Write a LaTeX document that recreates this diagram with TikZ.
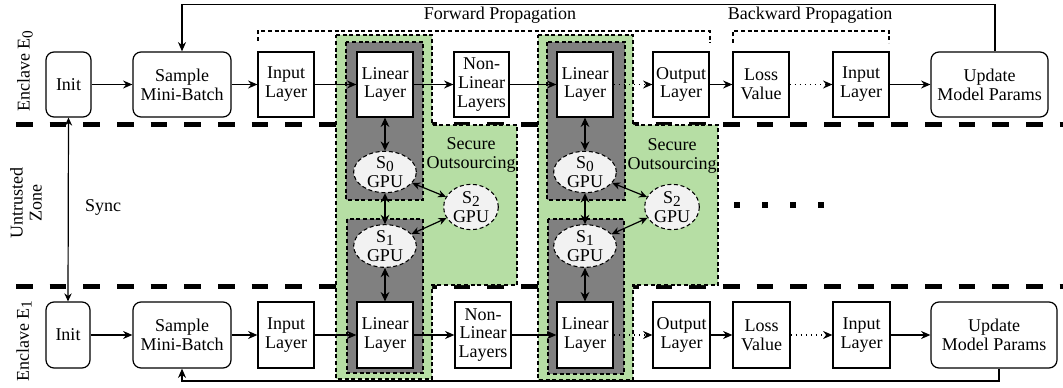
\documentclass[tikz,border=0pt]{standalone}
\usepackage{fontspec}
\setmainfont{Liberation Serif}
\usetikzlibrary{shapes.geometric,arrows.meta}
\definecolor{secgreen}{RGB}{182,222,164}
\definecolor{encgray}{RGB}{128,128,128}
\definecolor{gpufill}{RGB}{242,242,242}
\newcommand{\mybox}[7]{\node[#1, minimum width={(#4-#3)*0.75pt}, minimum height={(#6-#5)*0.75pt}] (#2) at ({(#3+#4)/2},{(#5+#6)/2}) {#7};}
\newcommand{\mysub}[1]{\raisebox{-0.35ex}{\fontsize{11.5}{11.5}\selectfont #1}}
\begin{document}
\begin{tikzpicture}[x=0.75pt, y=-0.75pt,
  font=\fontsize{13.5}{14.2}\selectfont,
  box/.style={draw, line width=0.9pt, inner sep=1pt, align=center, fill=white},
  rbox/.style={box, rounded corners=6pt},
  arr/.style={-{Stealth[length=7pt,width=6pt]}, line width=0.9pt},
  dotarr/.style={arr, dash pattern=on 0.8pt off 3pt},
  darr/.style={{Stealth[length=7pt,width=6.5pt]}-{Stealth[length=7pt,width=6.5pt]}, line width=1.6pt},
  sarr/.style={{Stealth[length=6pt,width=5.5pt]}-{Stealth[length=6pt,width=5.5pt]}, line width=0.9pt},
  zone/.style={draw, line width=0.8pt, dash pattern=on 3pt off 2pt},
  gpu/.style={ellipse, zone, fill=gpufill, inner sep=0pt},
  sep/.style={line width=3.8pt, dash pattern=on 12.5pt off 12.75pt},
  lbl/.style={inner sep=1pt, align=center}]
\useasboundingbox (0,0) rectangle (1063,388);

% zone separators
\draw[sep] (16,124.5) -- (1063,124.5);
\draw[sep] (16,286.5) -- (1063,286.5);

% secure outsourcing regions
\draw[zone, fill=secgreen] (336,35) -- (432,35) -- (432,125) -- (517,125) -- (517,285) -- (432,285) -- (432,379) -- (336,379) -- cycle;
\draw[zone, fill=secgreen] (538,35) -- (633,35) -- (633,125) -- (718,125) -- (718,285) -- (633,285) -- (633,380) -- (538,380) -- cycle;
\draw[zone, fill=encgray] (346,42) rectangle (423,200);
\draw[zone, fill=encgray] (347,219) rectangle (423,373);
\draw[zone, fill=encgray] (547,42) rectangle (625,200);
\draw[zone, fill=encgray] (548,219) rectangle (624,374);

% brackets
\draw[zone] (258,41) -- (258,31) -- (710,31) -- (710,43);
\draw[zone] (733,43) -- (733,31) -- (889,31) -- (889,43);
\node[lbl] (fwd) at (500,15) {Forward Propagation};
\node[lbl] (bwd) at (810,15) {Backward Propagation};

% labels
\node[lbl, rotate=90] (lE0) at (25,71) {Enclave E\mysub{0}};
\node[lbl, rotate=90] (lUZ) at (26,203) {Untrusted\\Zone};
\node[lbl, rotate=90] (lE1) at (24,341) {Enclave E\mysub{1}};
\node[lbl] (sync) at (103,207) {Sync};
\node[lbl] (so1) at (471,155) {Secure\\Outsourcing};
\node[lbl] (so2) at (672,156) {Secure\\Outsourcing};

% top row
\mybox{rbox}{initA}{46}{91}{52}{117}{Init}
\mybox{rbox}{sampA}{133}{231}{52}{117}{Sample\\Mini-Batch}
\mybox{box}{inA}{258}{314}{52}{117}{Input\\Layer}
\mybox{box}{linA1}{357}{413}{52}{117}{Linear\\Layer}
\mybox{box}{nlA}{454}{509}{52}{117}{Non-\\Linear\\Layers}
\mybox{box}{linA2}{557}{613}{52}{117}{Linear\\Layer}
\mybox{box}{outA}{653}{709}{52}{117}{Output\\Layer}
\mybox{box}{lossA}{733}{789}{52}{117}{Loss\\Value}
\mybox{box}{inA2}{833}{889}{52}{117}{Input\\Layer}
\mybox{rbox}{updA}{931}{1048}{52}{117}{Update\\Model Params}

% bottom row
\mybox{rbox}{initB}{46}{90}{302}{368}{Init}
\mybox{rbox}{sampB}{133}{231}{302}{368}{Sample\\Mini-Batch}
\mybox{box}{inB}{258}{314}{302}{368}{Input\\Layer}
\mybox{box}{linB1}{357}{413}{302}{368}{Linear\\Layer}
\mybox{box}{nlB}{455}{511}{302}{368}{Non-\\Linear\\Layers}
\mybox{box}{linB2}{557}{613}{302}{368}{Linear\\Layer}
\mybox{box}{outB}{653}{710}{302}{368}{Output\\Layer}
\mybox{box}{lossB}{733}{790}{302}{368}{Loss\\Value}
\mybox{box}{inB2}{833}{890}{302}{368}{Input\\Layer}
\mybox{rbox}{updB}{931}{1057}{302}{368}{Update\\Model Params}

% GPU servers
\node[gpu, minimum width=47pt, minimum height=31pt] (S0a) at (385,172) {};
\node[gpu, minimum width=47pt, minimum height=32pt] (S1a) at (385,246) {};
\node[gpu, minimum width=41pt, minimum height=34pt] (S2a) at (471,207) {};
\node[gpu, minimum width=47pt, minimum height=31pt] (S0b) at (585,172) {};
\node[gpu, minimum width=47pt, minimum height=32pt] (S1b) at (585,246) {};
\node[gpu, minimum width=41pt, minimum height=34pt] (S2b) at (672,207) {};
\node[lbl, inner sep=0pt] (S0at) at (S0a) {S\mysub{0}\\GPU};
\node[lbl, inner sep=0pt] (S1at) at (S1a) {S\mysub{1}\\GPU};
\node[lbl, inner sep=0pt] (S2at) at (S2a) {S\mysub{2}\\GPU};
\node[lbl, inner sep=0pt] (S0bt) at (S0b) {S\mysub{0}\\GPU};
\node[lbl, inner sep=0pt] (S1bt) at (S1b) {S\mysub{1}\\GPU};
\node[lbl, inner sep=0pt] (S2bt) at (S2b) {S\mysub{2}\\GPU};

% dots
\foreach \x in {737,765,793,821} \fill (\x-3,202) rectangle (\x+3,208);

% horizontal flow, top
\draw[arr] (initA) -- (sampA);
\draw[arr] (sampA) -- (inA);
\draw[arr] (inA) -- (linA1);
\draw[arr] (linA1) -- (nlA);
\draw[arr] (nlA) -- (linA2);
\draw[dotarr] (linA2) -- (outA);
\draw[arr] (outA) -- (lossA);
\draw[dotarr] (lossA) -- (inA2);
\draw[arr] (inA2) -- (updA);
% horizontal flow, bottom
\draw[arr] (initB) -- (sampB);
\draw[arr] (sampB) -- (inB);
\draw[arr] (inB) -- (linB1);
\draw[arr] (linB1) -- (nlB);
\draw[arr] (nlB) -- (linB2);
\draw[dotarr] (linB2) -- (outB);
\draw[arr] (outB) -- (lossB);
\draw[dotarr] (lossB) -- (inB2);
\draw[arr] (inB2) -- (updB);

% feedback loops
\coordinate (tR) at (995,4.5);
\coordinate (bR) at (999,381);
\draw[arr] (updA.north -| tR) -- (tR) -| (sampA.north);
\draw[arr] (updB.south -| bR) -- (bR) -| (sampB.south);

% sync
\draw[sarr] (initA.south) -- (initB.north);

% GPU links
\draw[darr] (linA1.south) -- (S0a.north);
\draw[darr] (S0a.south) -- (S1a.north);
\draw[darr] (S1a.south) -- (linB1.north);
\draw[sarr] (S0a) -- (S2a);
\draw[sarr] (S1a) -- (S2a);
\draw[darr] (linA2.south) -- (S0b.north);
\draw[darr] (S0b.south) -- (S1b.north);
\draw[darr] (S1b.south) -- (linB2.north);
\draw[sarr] (S0b) -- (S2b);
\draw[sarr] (S1b) -- (S2b);
\end{tikzpicture}
\end{document}
